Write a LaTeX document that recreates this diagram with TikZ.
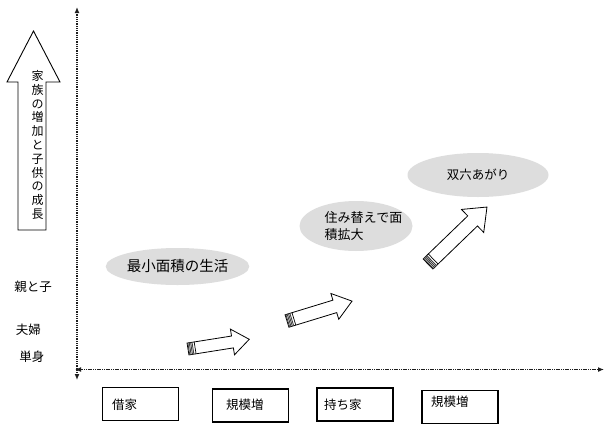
\documentclass[tikz,border=0pt]{standalone}
\usepackage{fontspec}
\setmainfont{Noto Sans CJK JP}
\usetikzlibrary{arrows.meta,shapes.geometric}
\definecolor{bubble}{RGB}{221,221,221}
\definecolor{axisgray}{RGB}{30,30,30}
\newcommand{\flowarrow}[7]{%
  \begin{scope}[shift={(#1,#2)},rotate=#3]
    \draw[line width=0.8pt,fill=white] (0,#5) -- ({#4-#7},#5) -- ({#4-#7},#6) -- (#4,0) -- ({#4-#7},-#6) -- ({#4-#7},-#5) -- (0,-#5) -- cycle;
    \foreach \s in {0.8,2.2,3.6,5} {\draw[line width=0.9pt,black!75] (\s,-#5) -- (\s,#5);}
    \draw[line width=0.7pt] (7.2,-#5) -- (7.2,#5);
  \end{scope}}
\tikzset{
  axis/.style={line width=1.5pt,axisgray,dash pattern=on 1.1pt off 0.7pt,{Latex[length=6pt,width=5pt]}-{Latex[length=6pt,width=5pt]}},
  bubblenode/.style={ellipse,fill=bubble,draw=none,inner sep=0pt},
  boxnode/.style={draw,line width=1.1pt,minimum width=76pt,minimum height=33pt,inner sep=0pt},
  lbl/.style={font=\fontsize{12.5}{14}\selectfont,inner sep=0pt}
}
\begin{document}
\begin{tikzpicture}[x=1pt,y=-1pt]
\useasboundingbox (0,0) rectangle (605,426);
\fill[white] (0,0) rectangle (605,426);
% big upward arrow
\draw[line width=0.9pt] (18,230) -- (18,82) -- (7,82) -- (33.5,31) -- (60,82) -- (46,82) -- (46,230) -- cycle;
\node[align=center,font=\fontsize{12}{13.8}\selectfont,inner sep=0pt] (grow) at (37.5,145) {家\\族\\の\\増\\加\\と\\子\\供\\の\\成\\長};
% axes
\coordinate (ytop) at (77,7);
\coordinate (ybot) at (77,380);
\coordinate (xleft) at (75,369.5);
\coordinate (xright) at (604,369.5);
\draw[axis] (ybot) -- (ytop);
\draw[axis] (xleft) -- (xright);
% left labels
\node[lbl] (oyako) at (33,287) {親と子};
\node[lbl] (fufu) at (28.5,330) {夫婦};
\node[lbl] (tanshin) at (32,357) {単身};
% bottom boxes
\node[boxnode] (b1) at (140.5,404) {};
\node[lbl,anchor=west] (t1) at (112,404.5) {借家};
\node[boxnode] (b2) at (250.5,405.5) {};
\node[lbl,anchor=west] (t2) at (226,404.5) {規模増};
\node[boxnode] (b3) at (355,404.5) {};
\node[lbl,anchor=west] (t3) at (324,405) {持ち家};
\node[boxnode] (b4) at (460,407) {};
\node[lbl,anchor=west] (t4) at (431,402) {規模増};
% bubbles
\node[bubblenode,minimum width=111pt,minimum height=37pt,font=\fontsize{14.5}{16}\selectfont] (e1) at (177.5,266.5) {最小面積の生活};
\node[bubblenode,minimum width=113pt,minimum height=50pt] (e2) at (356,226) {};
\node[align=left,font=\fontsize{13}{17}\selectfont,inner sep=0pt] (e2t) at (363.5,226.5) {住み替えで面\\積拡大};
\node[bubblenode,minimum width=141pt,minimum height=44pt,font=\fontsize{12.5}{14}\selectfont] (e3) at (478,175) {双六あがり};
% block arrows
\flowarrow{188}{349}{9}{62}{6}{13}{17}
\flowarrow{287}{321}{17}{68}{6.5}{13.5}{18}
\flowarrow{428}{264}{44}{82}{7}{16}{20}
\end{tikzpicture}
\end{document}
